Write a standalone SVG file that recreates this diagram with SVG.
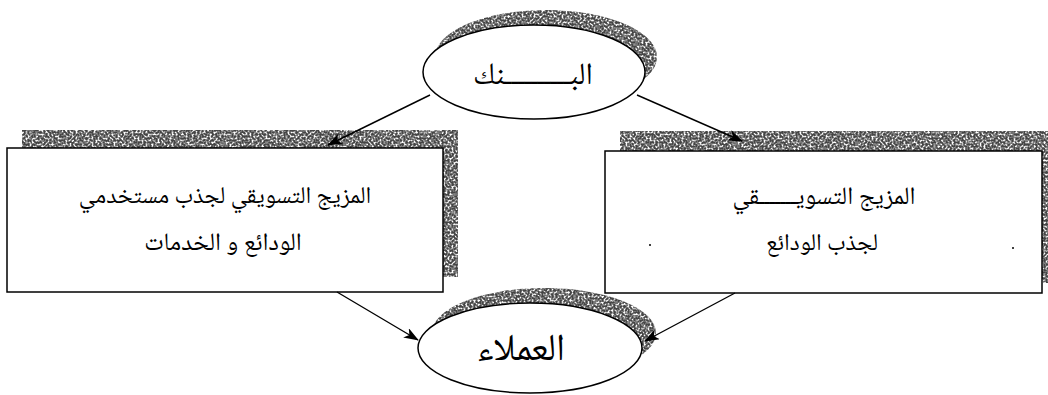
<svg xmlns="http://www.w3.org/2000/svg" width="1048" height="395" viewBox="0 0 1048 395">
<style>
.shape{fill:#fff;stroke:#000;stroke-width:1.5}
.shadow{fill:#444;filter:url(#speckle)}
.conn{stroke:#000;stroke-width:1.4;fill:none;marker-end:url(#arr)}
.t{font-family:"Noto Naskh Arabic","DejaVu Sans",sans-serif;fill:#000;text-anchor:middle;direction:rtl}
</style>
<defs>
<filter id="speckle" x="-5%" y="-5%" width="110%" height="110%">
<feTurbulence type="fractalNoise" baseFrequency="0.5" numOctaves="2" seed="7" result="n"/>
<feColorMatrix in="n" type="matrix" values="0 0 0 0 0  0 0 0 0 0  0 0 0 0 0  -3.5 0 0 0 2.5" result="m"/>
<feComposite in="SourceGraphic" in2="m" operator="in"/>
</filter>
<marker id="arr" viewBox="0 0 15 11" refX="14" refY="5.5" markerWidth="15" markerHeight="11" markerUnits="userSpaceOnUse" orient="auto">
<path d="M0,0 L15,5.5 L0,11 L4,5.5 z" fill="#000"/>
</marker>
</defs>

<g id="node-bank">
<ellipse class="shadow" cx="546" cy="57" rx="111" ry="47"/>
<ellipse class="shape" cx="534" cy="72" rx="111" ry="47"/>
<text class="t" x="533" y="84" font-size="31">البــــــــــنك</text>
</g>

<g id="node-left">
<rect class="shadow" x="22" y="130" width="436" height="147"/>
<rect class="shape" x="7" y="148" width="436" height="144"/>
<text class="t" x="225" y="203" font-size="24">المزيج التسويقي لجذب مستخدمي</text>
<text class="t" x="223" y="250" font-size="25">الودائع و الخدمات</text>
</g>

<g id="node-right">
<rect class="shadow" x="620" y="131" width="436" height="152"/>
<rect class="shape" x="605" y="151" width="437" height="142"/>
<text class="t" x="824" y="204" font-size="25">المزيج التسويـــــــقي</text>
<text class="t" x="822" y="250" font-size="24">لجذب الودائع</text>
<circle cx="650" cy="245" r="1" fill="#000"/>
<circle cx="1013" cy="248" r="1" fill="#000"/>
</g>

<g id="node-clients">
<ellipse class="shadow" cx="544" cy="333" rx="112" ry="45"/>
<ellipse class="shape" cx="530" cy="348" rx="112" ry="45"/>
<text class="t" x="521" y="360" font-size="38">العملاء</text>
</g>

<g id="connectors">
<line class="conn" x1="430" y1="95" x2="328" y2="145"/>
<line class="conn" x1="637" y1="95" x2="742" y2="141"/>
<line class="conn" x1="337" y1="292" x2="418" y2="340"/>
<line class="conn" x1="735" y1="293" x2="645" y2="341"/>
</g>
</svg>
